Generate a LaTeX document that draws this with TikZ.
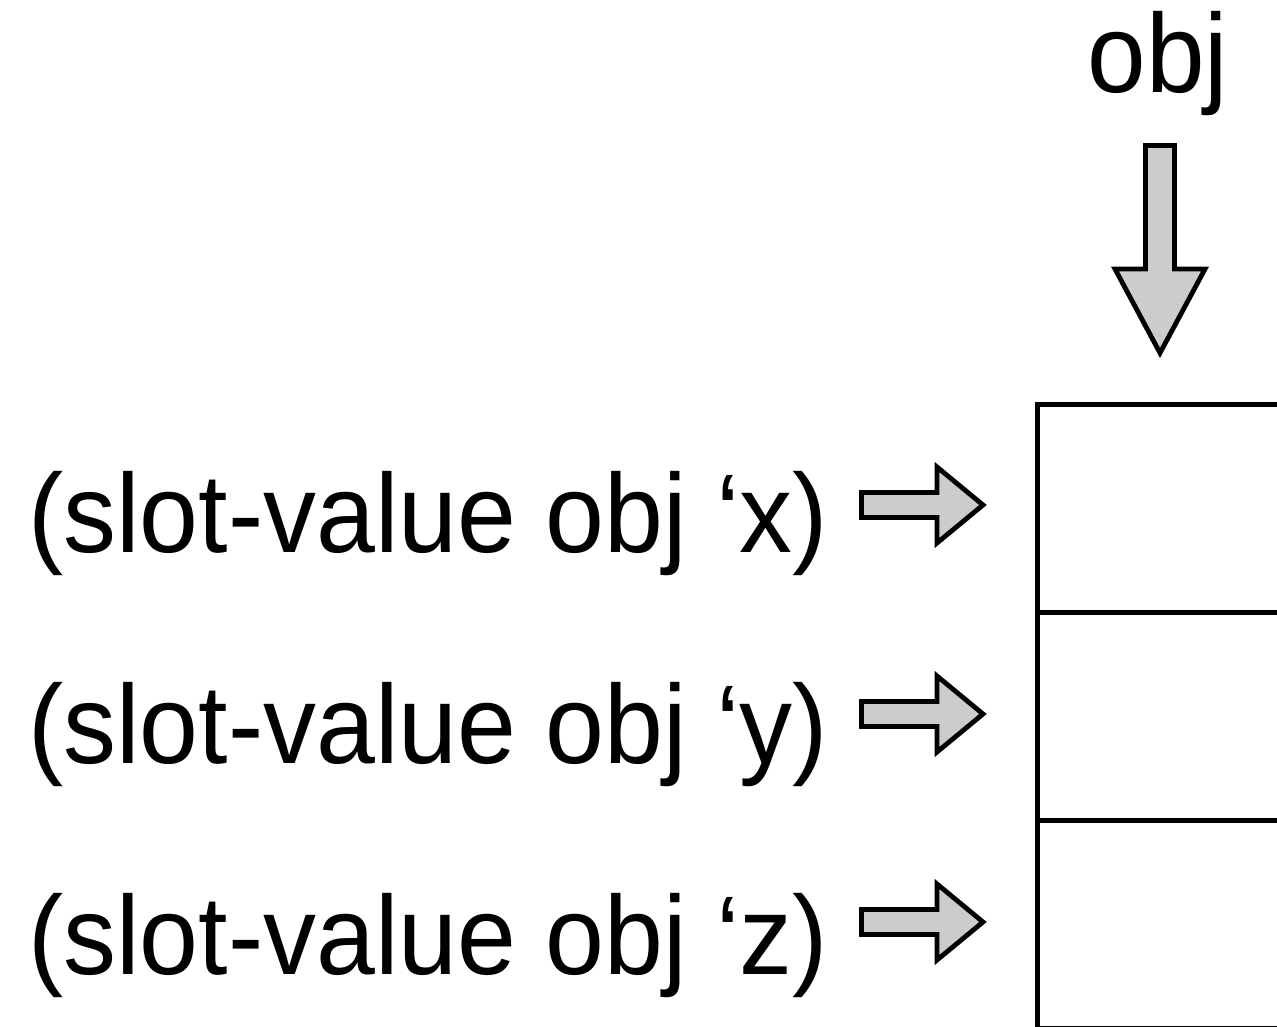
\documentclass[tikz,border=0pt]{standalone}
\usepackage{fontspec}
\setmainfont{Liberation Sans}
\begin{document}
\begin{tikzpicture}[x=1pt,y=-1pt,
  cell/.style={draw, line width=5pt, minimum width=340pt, minimum height=208pt, anchor=north west, inner sep=0pt},
  blockarrow/.style={draw, line width=4.8pt, fill=black!20, line join=miter},
  lbl/.style={font=\fontsize{112}{130}\selectfont, inner sep=0pt, anchor=base west}]
\useasboundingbox (0,0) rectangle (1277,1027);
\clip (0,0) rectangle (1277,1027);
% memory cells
\node[cell] (c1) at (1035,402) {};
\node[cell] (c2) at (1035,610) {};
\node[cell] (c3) at (1035,818) {};
% labels
\node[lbl, anchor=base] (obj) at (1158,93) {\scalebox{0.94}[1]{obj}};
\node[lbl] (t1) at (28,552) {\scalebox{0.945}[1]{(slot-value obj ‘x)}};
\node[lbl] (t2) at (28,763) {\scalebox{0.945}[1]{(slot-value obj ‘y)}};
\node[lbl] (t3) at (28,974) {\scalebox{0.945}[1]{(slot-value obj ‘z)}};
% down arrow
\draw[blockarrow] (1145.5,145.5) -- (1174.5,145.5) -- (1174.5,269) -- (1205,269) -- (1160,353) -- (1115,269) -- (1145.5,269) -- cycle;
% right arrows
\foreach \yc in {505,714,922}{
  \draw[blockarrow] (861.5,\yc-12.5) -- (937,\yc-12.5) -- (937,\yc-38) -- (983,\yc) -- (937,\yc+38) -- (937,\yc+12.5) -- (861.5,\yc+12.5) -- cycle;
}
\end{tikzpicture}
\end{document}
